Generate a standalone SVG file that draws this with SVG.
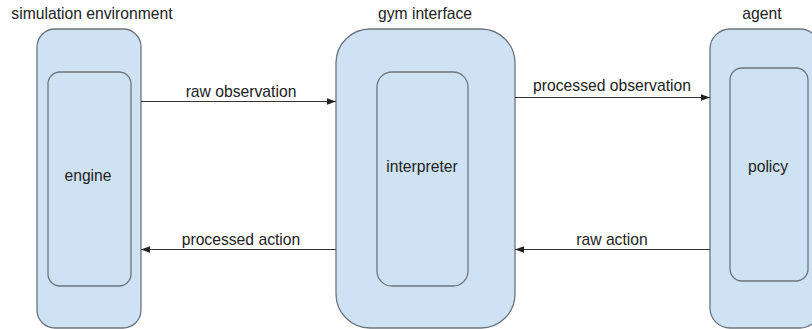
<svg xmlns="http://www.w3.org/2000/svg" width="812" height="329" viewBox="0 0 812 329">
<defs>
<style>
.box{fill:#cfe2f3;stroke:#6b7580;stroke-width:1.3}
.t{font-family:"Liberation Sans",Arial,sans-serif;font-size:15.7px;fill:#222;text-anchor:middle}
.e{font-family:"Liberation Sans",Arial,sans-serif;font-size:15.7px;fill:#222;text-anchor:middle}
.c{stroke:#333;stroke-width:1.2;fill:none}
</style>
<marker id="ah" viewBox="0 0 10 10" refX="10" refY="5" markerWidth="9" markerHeight="9" markerUnits="userSpaceOnUse" orient="auto">
<path d="M0,1.5 L10,5 L0,8.5 z" fill="#222"/>
</marker>
</defs>
<rect width="812" height="329" fill="#fff"/>
<g id="sim">
<text class="t" x="92" y="19">simulation environment</text>
<rect class="box" x="37" y="29" width="104" height="299" rx="18"/>
<g id="engine">
<rect class="box" x="48" y="72" width="83" height="214" rx="12"/>
<text class="t" x="88" y="181">engine</text>
</g>
</g>
<g id="gym">
<text class="t" x="425" y="19">gym interface</text>
<rect class="box" x="336" y="29" width="179" height="299" rx="34"/>
<g id="interpreter">
<rect class="box" x="377" y="72" width="91" height="214" rx="15"/>
<text class="t" x="422" y="172">interpreter</text>
</g>
</g>
<g id="agent">
<text class="t" x="762" y="19">agent</text>
<rect class="box" x="710" y="29" width="110" height="299" rx="20"/>
<g id="policy">
<rect class="box" x="730" y="68" width="78" height="213" rx="12"/>
<text class="t" x="768" y="172">policy</text>
</g>
</g>
<g id="connectors">
<line class="c" x1="141" y1="101.5" x2="336" y2="101.5" marker-end="url(#ah)"/>
<text class="e" x="241" y="97">raw observation</text>
<line class="c" x1="515" y1="97.5" x2="710" y2="97.5" marker-end="url(#ah)"/>
<text class="e" x="612" y="91">processed observation</text>
<line class="c" x1="336" y1="249.5" x2="141" y2="249.5" marker-end="url(#ah)"/>
<text class="e" x="241" y="245">processed action</text>
<line class="c" x1="710" y1="249.5" x2="515" y2="249.5" marker-end="url(#ah)"/>
<text class="e" x="612" y="245">raw action</text>
</g>
</svg>
